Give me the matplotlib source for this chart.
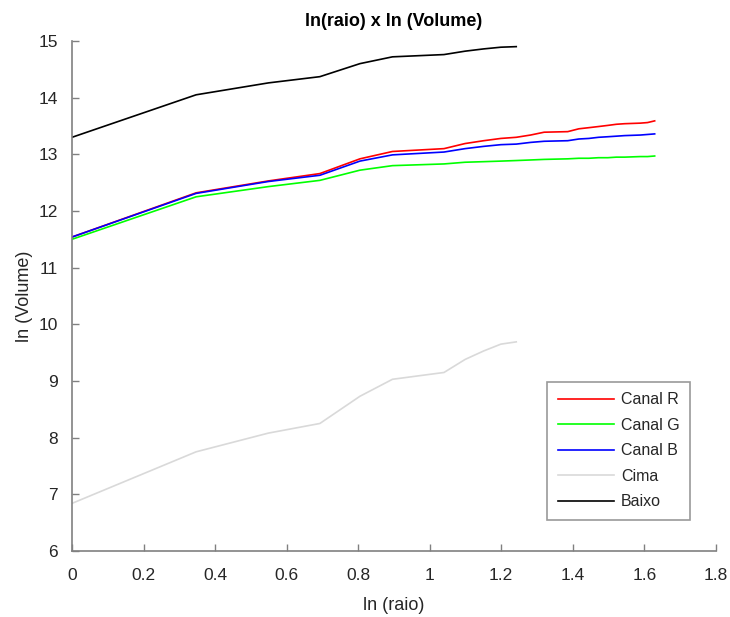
import matplotlib
matplotlib.use("Agg")
import matplotlib.pyplot as plt

plt.rcParams["font.family"] = ["Liberation Sans", "DejaVu Sans"]

# ln(raio) for the sampled radii
x_long = [0.0, 0.347, 0.549, 0.693, 0.805, 0.896, 1.040, 1.099, 1.151, 1.199,
          1.242, 1.282, 1.320, 1.386, 1.417, 1.445, 1.472, 1.498, 1.522, 1.545,
          1.589, 1.609, 1.629]
x_short = x_long[:11]

canal_r = [11.54, 12.32, 12.53, 12.66, 12.92, 13.05, 13.10, 13.19, 13.24, 13.28,
           13.30, 13.34, 13.39, 13.40, 13.45, 13.47, 13.49, 13.51, 13.53, 13.54,
           13.55, 13.56, 13.59]
canal_g = [11.50, 12.25, 12.43, 12.54, 12.72, 12.80, 12.83, 12.86, 12.87, 12.88,
           12.89, 12.90, 12.91, 12.92, 12.93, 12.93, 12.94, 12.94, 12.95, 12.95,
           12.96, 12.96, 12.97]
canal_b = [11.54, 12.31, 12.52, 12.63, 12.88, 12.99, 13.04, 13.10, 13.14, 13.17,
           13.18, 13.21, 13.23, 13.24, 13.27, 13.28, 13.30, 13.31, 13.32, 13.33,
           13.34, 13.35, 13.36]
cima = [6.84, 7.75, 8.08, 8.25, 8.73, 9.03, 9.15, 9.38, 9.53, 9.65, 9.69]
baixo = [13.30, 14.05, 14.26, 14.37, 14.60, 14.72, 14.76, 14.82, 14.86, 14.89, 14.90]

x_ticks = [0, 0.2, 0.4, 0.6, 0.8, 1, 1.2, 1.4, 1.6, 1.8]
x_ticklabels = ["0", "0.2", "0.4", "0.6", "0.8", "1", "1.2", "1.4", "1.6", "1.8"]
y_ticks = list(range(6, 16))

AXC = "#808080"
TXT = "#262626"

fig = plt.figure(figsize=(7.3, 6.17), dpi=100)
ax = fig.add_axes([0.0986, 0.107, 0.882, 0.8266])

ax.plot(x_long, canal_r, color="#ff0000", lw=1.2, label="Canal R")
ax.plot(x_long, canal_g, color="#00ff00", lw=1.2, label="Canal G")
ax.plot(x_long, canal_b, color="#0000ff", lw=1.2, label="Canal B")
ax.plot(x_short, cima, color="#d9d9d9", lw=1.2, label="Cima")
ax.plot(x_short, baixo, color="#000000", lw=1.2, label="Baixo")

ax.set_xlim(0, 1.8)
ax.set_ylim(6, 15)
ax.set_xticks(x_ticks)
ax.set_xticklabels(x_ticklabels)
ax.set_yticks(y_ticks)

for side in ("top", "right"):
    ax.spines[side].set_visible(False)
for side in ("left", "bottom"):
    ax.spines[side].set_color(AXC)
    ax.spines[side].set_linewidth(1.2)
ax.tick_params(direction="in", length=5, width=1, color=AXC,
               labelcolor=TXT, labelsize=12.5)
ax.tick_params(axis="y", pad=10)
ax.tick_params(axis="x", pad=12)

ax.set_xlabel("ln (raio)", fontsize=13, color=TXT, labelpad=10)
ax.set_ylabel("ln (Volume)", fontsize=13, color=TXT, labelpad=4)
ax.set_title("ln(raio) x ln (Volume)", fontsize=13, fontweight="bold",
             color="#000000", pad=11)

leg = ax.legend(loc="lower right", bbox_to_anchor=(0.96, 0.061),
                borderaxespad=0, fancybox=False, frameon=True, fontsize=11.5,
                handlelength=3.5, labelspacing=0.66, borderpad=0.65,
                handletextpad=0.45)
leg.get_frame().set_edgecolor(AXC)
leg.get_frame().set_linewidth(1.2)
for t in leg.get_texts():
    t.set_color(TXT)

fig.savefig("out.png", dpi=100)
